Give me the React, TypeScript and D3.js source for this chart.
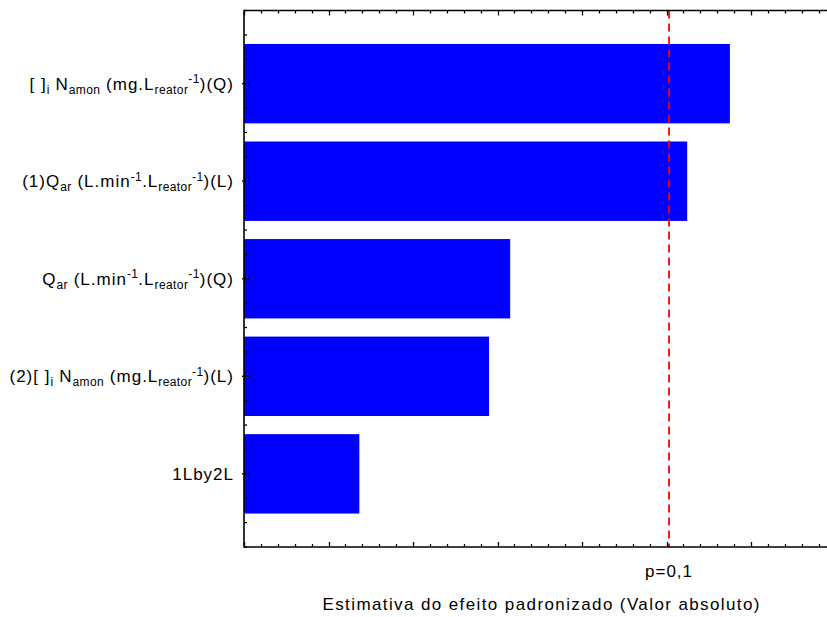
import React from "react";
import * as d3 from "d3";

// Factor labels; _{...} marks a subscript, ^{...} a superscript
const factorLabels = [
  "[ ]_{i} N_{amon} (mg.L_{reator}^{-1})(Q)",
  "(1)Q_{ar} (L.min^{-1}.L_{reator}^{-1})(L)",
  "Q_{ar} (L.min^{-1}.L_{reator}^{-1})(Q)",
  "(2)[ ]_{i} N_{amon} (mg.L_{reator}^{-1})(L)",
  "1Lby2L",
];

// Standardized effect estimates (absolute value)
const effectValues = [5.75, 5.245, 3.15, 2.9, 1.365];

// Significance threshold line
const pLimit = 5.03;
const pLimitLabel = "p=0,1";
const xAxisTitle = "Estimativa do efeito padronizado (Valor absoluto)";

const W = 827;
const H = 617;
const left = 244;
const top = 10.5;
const bottom = 547;
const FONT = "'Liberation Sans', Arial, sans-serif";

type Seg = { t: string; k: "n" | "sub" | "sup" };

function parseLabel(s: string): Seg[] {
  const out: Seg[] = [];
  const re = /([_^])\{([^}]*)\}/g;
  let last = 0;
  let m: RegExpExecArray | null;
  while ((m = re.exec(s))) {
    if (m.index > last) out.push({ t: s.slice(last, m.index), k: "n" });
    out.push({ t: m[2], k: m[1] === "_" ? "sub" : "sup" });
    last = re.lastIndex;
  }
  if (last < s.length) out.push({ t: s.slice(last), k: "n" });
  return out;
}

function RichLabel({ text, x, y }: { text: string; x: number; y: number }) {
  const segs = parseLabel(text);
  let prev: Seg["k"] = "n";
  const shift = (k: Seg["k"]) => (k === "sub" ? 4 : k === "sup" ? -6.5 : 0);
  return (
    <text
      x={x}
      y={y}
      textAnchor="end"
      fontFamily={FONT}
      fontSize={17}
      letterSpacing={1.0}
      fill="#000"
    >
      {segs.map((sg, i) => {
        const dy = shift(sg.k) - shift(prev);
        prev = sg.k;
        return (
          <tspan
            key={i}
            dy={dy}
            fontSize={sg.k === "n" ? 17 : 12}
            letterSpacing={sg.k === "n" ? 1.0 : 0.4}
          >
            {sg.t}
          </tspan>
        );
      })}
    </text>
  );
}

export default function App() {
  const x = d3.scaleLinear().domain([0, 7]).range([left, left + 7 * 84.5]);
  const y = d3.scaleLinear().domain([0, 5.5]).range([top, bottom]);

  const minorX = d3.range(0, 7.01, 0.2).map((v) => +v.toFixed(2));
  const minorY = d3.range(0, 5.51, 0.25);
  const barHalf = 0.407;

  return (
    <svg
      width={W}
      height={H}
      style={{ position: "absolute", left: 0, top: 0, background: "#fff" }}
    >
      <rect width={W} height={H} fill="#fff" />

      {/* bars */}
      {effectValues.map((v, i) => {
        const c = i + 0.75;
        return (
          <rect
            key={i}
            x={x(0)}
            y={y(c - barHalf)}
            width={x(v) - x(0)}
            height={y(c + barHalf) - y(c - barHalf)}
            fill="#0000ff"
          />
        );
      })}

      {/* threshold line */}
      <line
        x1={x(pLimit)}
        x2={x(pLimit)}
        y1={top}
        y2={bottom}
        stroke="#ff0000"
        strokeWidth={1.8}
        strokeDasharray="8,5"
      />

      {/* axis lines */}
      <line x1={left} x2={W} y1={top} y2={top} stroke="#000" strokeWidth={1.6} />
      <line x1={left} x2={W} y1={bottom} y2={bottom} stroke="#000" strokeWidth={1.6} />
      <line x1={left} x2={left} y1={top - 0.8} y2={bottom + 0.8} stroke="#000" strokeWidth={1.6} />

      {/* x ticks, top and bottom, pointing inward */}
      {minorX.map((v, i) => {
        const major = Math.abs(v - Math.round(v)) < 1e-6;
        const len = major ? 5 : 3;
        const xx = Math.round(x(v)) + 0.5;
        if (xx > W) return null;
        return (
          <g key={i}>
            <line x1={xx} x2={xx} y1={top} y2={top + len} stroke="#000" strokeWidth={1.3} />
            <line x1={xx} x2={xx} y1={bottom} y2={bottom - len} stroke="#000" strokeWidth={1.3} />
          </g>
        );
      })}

      {/* y ticks */}
      {minorY.map((v, i) => {
        const major = Math.abs(((v - 0.75) % 1 + 1) % 1) < 1e-6 && v < 5;
        const yy = y(v);
        return (
          <line
            key={i}
            x1={major ? left - 2 : left}
            x2={left + (major ? 5 : 3)}
            y1={yy}
            y2={yy}
            stroke="#000"
            strokeWidth={1.3}
          />
        );
      })}

      {/* factor labels */}
      {factorLabels.map((lab, i) => (
        <RichLabel key={i} text={lab} x={234} y={y(i + 0.75) + 6} />
      ))}

      {/* threshold label */}
      <text
        x={x(pLimit)}
        y={577}
        textAnchor="middle"
        fontFamily={FONT}
        fontSize={17}
        letterSpacing={1.0}
      >
        {pLimitLabel}
      </text>

      {/* axis title */}
      <text
        x={541}
        y={610}
        textAnchor="middle"
        fontFamily={FONT}
        fontSize={17}
        textLength={437}
        lengthAdjust="spacing"
      >
        {xAxisTitle}
      </text>
    </svg>
  );
}
